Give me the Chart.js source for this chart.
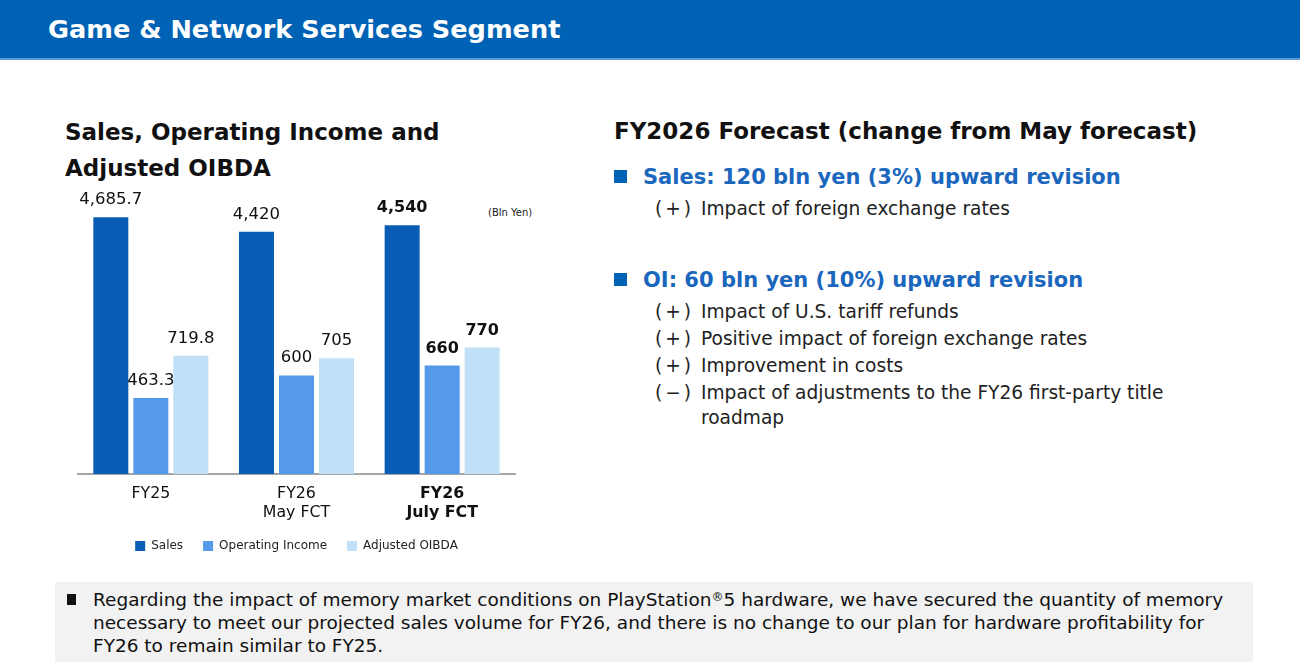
<!DOCTYPE html>
<html>
<head>
<meta charset="utf-8">
<script src="https://cdn.jsdelivr.net/npm/chart.js@4.4.1/dist/chart.umd.min.js"></script>
<style>
  body { margin: 0; width: 1300px; height: 664px; background: #fff; position: relative; overflow: hidden; font-family: "DejaVu Sans", Verdana, sans-serif; }
  .header { position: absolute; left: 0; top: 0; width: 1300px; height: 58px; background: #0062b4; border-bottom: 2px solid #5a9bd8; }
  .header span { position: absolute; left: 48px; top: 14px; color: #fff; font-size: 25.6px; font-weight: bold; }
  .ctitle { position: absolute; left: 65px; top: 114px; font-size: 23px; font-weight: bold; line-height: 36px; color: #111; }
  .unit { position: absolute; left: 488px; top: 207px; font-size: 10px; color: #222; }
  #chartBox { position: absolute; left: 60px; top: 180px; width: 480px; height: 382px; }
  .right { position: absolute; left: 614px; top: 118px; color: #111; }
  .rtitle { font-size: 23px; font-weight: bold; }
  .head { position: absolute; left: 0; font-size: 21px; font-weight: bold; color: #1a67bd; white-space: nowrap; }
  .head i { display: inline-block; width: 13px; height: 13px; background: #0062b4; margin-right: 16px; vertical-align: 1px; }
  .item { position: absolute; left: 41px; font-size: 18.6px; color: #222; white-space: nowrap; }
  .item b { font-weight: normal; display: inline-block; width: 46px; letter-spacing: 3px; }
  .note { position: absolute; left: 55px; top: 582px; width: 1198px; height: 80px; background: #f2f2f2; }
  .note i { position: absolute; left: 12px; top: 12px; width: 9px; height: 11px; background: #111; }
  .note p { position: absolute; left: 38px; top: 6px; margin: 0; width: 1150px; font-size: 18.5px; line-height: 23px; color: #111; }
  .note sup { font-size: 0.65em; line-height: 0; vertical-align: 0.45em; }
</style>
</head>
<body>
<div class="header"><span>Game &amp; Network Services Segment</span></div>
<div class="ctitle">Sales, Operating Income and<br>Adjusted OIBDA</div>
<div class="unit">(Bln Yen)</div>
<div id="chartBox"><canvas id="segChart"></canvas></div>

<div class="right">
  <div class="rtitle">FY2026 Forecast (change from May forecast)</div>
  <div class="head" style="top:47px"><i></i>Sales: 120 bln yen (3%) upward revision</div>
  <div class="item" style="top:80px"><b>(+)</b>Impact of foreign exchange rates</div>
  <div class="head" style="top:150px"><i></i>OI: 60 bln yen (10%) upward revision</div>
  <div class="item" style="top:183px"><b>(+)</b>Impact of U.S. tariff refunds</div>
  <div class="item" style="top:210px"><b>(+)</b>Positive impact of foreign exchange rates</div>
  <div class="item" style="top:237px"><b>(+)</b>Improvement in costs</div>
  <div class="item" style="top:264px"><b>(−)</b>Impact of adjustments to the FY26 first-party title</div>
  <div class="item" style="top:289px"><b></b>roadmap</div>
</div>

<div class="note"><i></i><p>Regarding the impact of memory market conditions on PlayStation<sup>®</sup>5 hardware, we have secured the quantity of memory necessary to meet our projected sales volume for FY26, and there is no change to our plan for hardware profitability for FY26 to remain similar to FY25.</p></div>

<script>
// 데이터
var categories = [['FY25'], ['FY26', 'May FCT'], ['FY26', 'July FCT']];
var salesValues = [4685.7, 4420, 4540];
var oiValues = [463.3, 600, 660];
var oibdaValues = [719.8, 705, 770];
var salesLabels = ['4,685.7', '4,420', '4,540'];
var oiLabels = ['463.3', '600', '660'];
var oibdaLabels = ['719.8', '705', '770'];

var FONT = '"DejaVu Sans", Verdana, sans-serif';

//막대 위 라벨
var valueLabelPlugin = {
    id: 'valueLabels',
    afterDatasetsDraw: function (chart) {
        var ctx = chart.ctx;
        var labelSets = [salesLabels, oiLabels, oibdaLabels];
        ctx.save();
        ctx.fillStyle = '#111';
        ctx.textAlign = 'center';
        ctx.textBaseline = 'bottom';
        chart.data.datasets.forEach(function (ds, i) {
            var meta = chart.getDatasetMeta(i);
            meta.data.forEach(function (bar, j) {
                ctx.font = (j == 2 ? 'bold 16px ' : '16.5px ') + FONT;
                ctx.fillText(labelSets[i][j], bar.x, bar.y - 9);
            });
        });
        ctx.restore();
    }
};

var ctx = document.getElementById('segChart').getContext('2d');
var myChart = new Chart(ctx, {
    type: 'bar',
    data: {
        labels: categories,
        datasets: [
            { label: 'Sales', data: salesValues, backgroundColor: '#0a5db4', yAxisID: 'y' },
            { label: 'Operating Income', data: oiValues, backgroundColor: '#559aea', yAxisID: 'y2' },
            { label: 'Adjusted OIBDA', data: oibdaValues, backgroundColor: '#bfe0f7', yAxisID: 'y2' }
        ]
    },
    options: {
        responsive: true,
        maintainAspectRatio: false,
        animation: false,
        devicePixelRatio: 1,
        layout: { padding: { left: 18, right: 25, top: 20, bottom: 0 } },
        datasets: { bar: { categoryPercentage: 0.824, barPercentage: 0.875 } },
        plugins: {
            tooltip: { enabled: false },
            legend: {
                position: 'bottom',
                labels: {
                    boxWidth: 10, boxHeight: 10, padding: 20,
                    color: '#222',
                    font: { family: FONT, size: 12 }
                }
            }
        },
        scales: {
            x: {
                grid: { display: false, drawTicks: false },
                border: { display: true, color: '#a6a6a6', width: 2 },
                ticks: {
                    color: '#111',
                    padding: 10,
                    font: function (c) {
                        return { family: FONT, size: 15.8, weight: c.index == 2 ? 'bold' : 'normal', lineHeight: 1.2 };
                    }
                },
                afterFit: function (axis) {
                    axis.height -= 12; // 범례와 간격 줄이기
                }
            },
            y: { display: false, min: 0, max: 5000 },
            y2: { display: false, min: 0, max: 5000 / 3 }
        }
    },
    plugins: [valueLabelPlugin]
});
</script>
</body>
</html>
